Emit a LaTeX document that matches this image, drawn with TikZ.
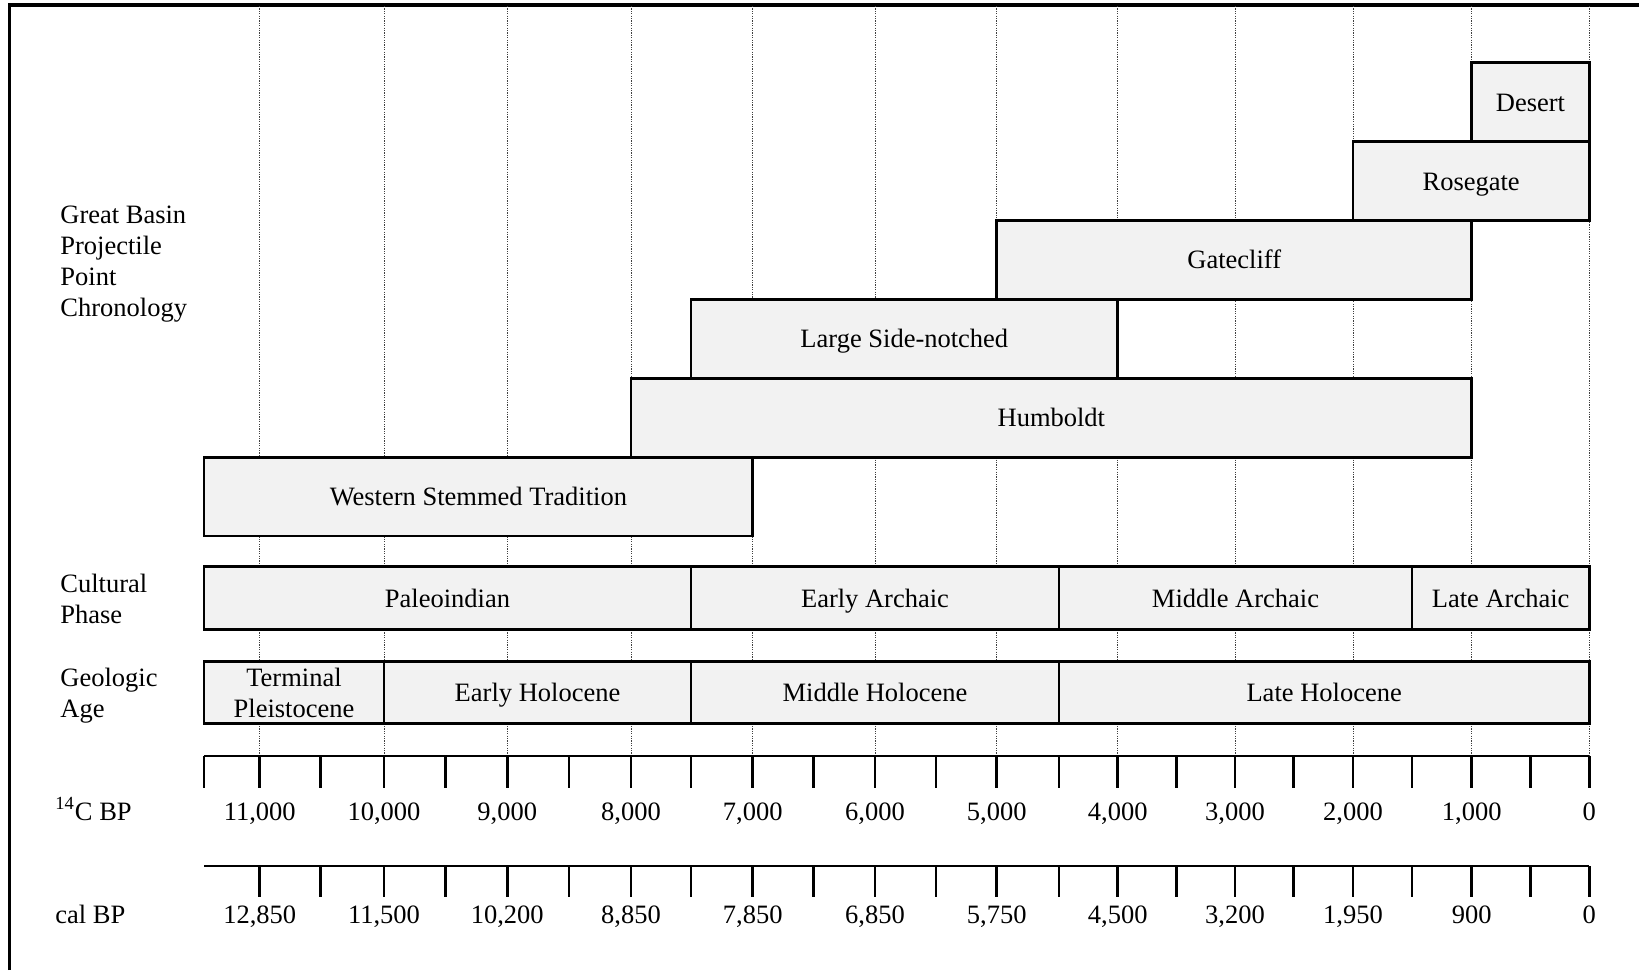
\documentclass[tikz,border=0pt]{standalone}
\usepackage{fontspec}
\setmainfont{Liberation Serif}
\definecolor{boxfill}{RGB}{242,242,242}
\newcommand{\tlbox}[7][onel]{%
  \pgfmathsetmacro\tlW{(#4-#3)*0.5}%
  \pgfmathsetmacro\tlH{(#6-#5)*0.5}%
  \node[box, #1, minimum width=\tlW pt, minimum height=\tlH pt] (#2) at (#3,#5) {#7};}
\begin{document}
\begin{tikzpicture}[x=0.5pt,y=-0.5pt,
  font=\fontsize{13.25}{15.5}\selectfont,
  box/.style={draw=black, line width=1.3pt, fill=boxfill, inner sep=0pt, outer sep=0pt, anchor=north west, align=center},
  onel/.style={text height=9pt, text depth=0pt},
  multil/.style={},
  gridline/.style={black!75, line width=0.5pt, dash pattern=on 0.6pt off 0.6pt},
  axisline/.style={black, line width=1.3pt},
  ticklbl/.style={anchor=base},
  sidelbl/.style={anchor=west, align=left, inner sep=0pt}]
\useasboundingbox (0,0) rectangle (1639,970);
% frame (top and left)
\draw[line width=1.6pt] (9.5,970) -- (9.5,5) -- (1639,5);
% grid lines
\foreach \gx in {259.7,384,507.3,631,752.7,875,996.7,1117.7,1235,1353,1471.7,1589.3}
  \draw[gridline] (\gx,6) -- (\gx,756);
% side labels
\node[sidelbl] (gbl) at (60,264) {Great Basin\\Projectile\\Point\\Chronology};
\node[sidelbl] (cpl) at (60,599) {Cultural\\Phase};
\node[sidelbl] (gal) at (60,695.5) {Geologic\\Age};
% projectile point chronology
\tlbox{desert}{1471.7}{1589.3}{62.7}{141.6}{Desert}
\tlbox{rosegate}{1353}{1589.3}{141.6}{220.5}{Rosegate}
\tlbox{gatecliff}{996.7}{1471.7}{220.5}{299.4}{Gatecliff}
\tlbox{lsn}{691}{1117.7}{299.4}{378.3}{Large Side-notched}
\tlbox{humboldt}{631}{1471.7}{378.3}{457.2}{Humboldt}
\tlbox{wst}{204}{752.7}{457.2}{536.1}{Western Stemmed Tradition}
% cultural phase
\tlbox{paleo}{204}{691}{566.7}{629.3}{Paleoindian}
\tlbox{earcha}{691}{1059}{566.7}{629.3}{Early Archaic}
\tlbox{midarcha}{1059}{1412}{566.7}{629.3}{Middle Archaic}
\tlbox{latarcha}{1412}{1589.3}{566.7}{629.3}{Late Archaic}
% geologic age
\tlbox[multil]{termpl}{204}{384}{661.7}{723.3}{Terminal\\Pleistocene}
\tlbox{earholo}{384}{691}{661.7}{723.3}{Early Holocene}
\tlbox{midholo}{691}{1059}{661.7}{723.3}{Middle Holocene}
\tlbox{latholo}{1059}{1589.3}{661.7}{723.3}{Late Holocene}
% 14C axis
\draw[axisline] (204,756) -- (1589.3,756);
\foreach \tx in {204,259.7,320.7,384,445.3,507.3,569,631,691,752.7,813.7,875,936,996.7,1059,1117.7,1176.7,1235,1293.7,1353,1412,1471.7,1530.7,1589.3}
  \draw[axisline] (\tx,756) -- (\tx,788);
\node[anchor=base west, inner sep=0pt] (c14l) at (55,820) {\textsuperscript{14}C BP};
\foreach \tx/\tl [count=\i] in {259.7/{11,000},384/{10,000},507.3/{9,000},631/{8,000},752.7/{7,000},875/{6,000},996.7/{5,000},1117.7/{4,000},1235/{3,000},1353/{2,000},1471.7/{1,000},1589.3/0}
  \node[ticklbl] (c14t\i) at (\tx,820) {\tl};
% cal BP axis
\draw[axisline] (204,866) -- (1589.3,866);
\foreach \tx in {259.7,320.7,384,445.3,507.3,569,631,691,752.7,813.7,875,936,996.7,1059,1117.7,1176.7,1235,1293.7,1353,1412,1471.7,1530.7,1589.3}
  \draw[axisline] (\tx,866) -- (\tx,897);
\node[anchor=base west, inner sep=0pt] (call) at (55,923) {cal BP};
\foreach \tx/\tl [count=\i] in {259.7/{12,850},384/{11,500},507.3/{10,200},631/{8,850},752.7/{7,850},875/{6,850},996.7/{5,750},1117.7/{4,500},1235/{3,200},1353/{1,950},1471.7/900,1589.3/0}
  \node[ticklbl] (calt\i) at (\tx,923) {\tl};
\end{tikzpicture}
\end{document}
